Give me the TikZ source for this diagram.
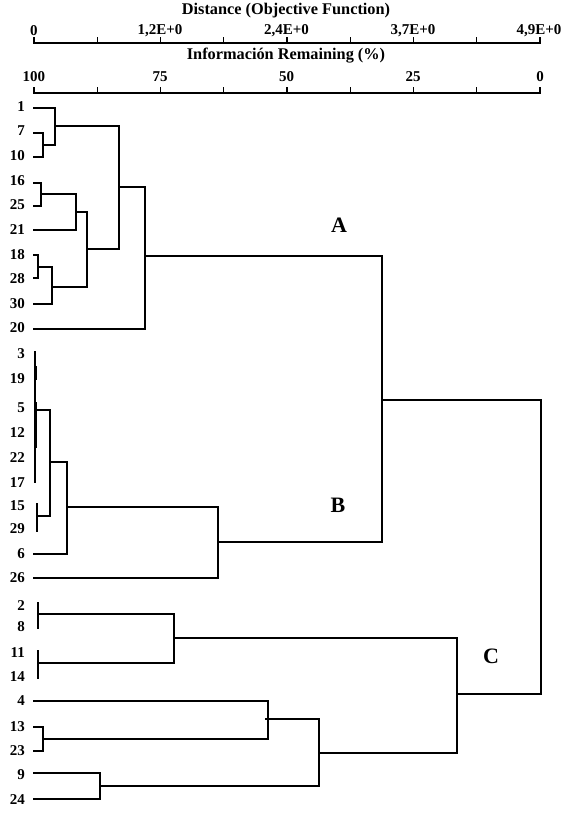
\documentclass[tikz,border=0pt]{standalone}
\usepackage{fontspec}
\setmainfont{Liberation Serif}
\begin{document}
\begin{tikzpicture}[x=1pt,y=-1pt,line cap=rect,
  dl/.style={line width=1.2pt,black},
  leaf/.style={anchor=east,inner sep=0pt,font=\bfseries\fontsize{15}{16}\selectfont},
  tl/.style={inner sep=0pt,font=\bfseries\fontsize{15}{16}\selectfont},
  ttl/.style={inner sep=0pt,font=\bfseries\fontsize{16.3}{17}\selectfont},
  grp/.style={inner sep=0pt,font=\bfseries\fontsize{22}{24}\selectfont}]
\useasboundingbox (0,0) rectangle (569,815);
% axes
\node[ttl] (t1) at (286,10.5) {Distance (Objective Function)};
\node[ttl] (t2) at (286,56) {Información Remaining (\%)};
\draw[dl] (34,43) -- (540,43);
\draw[dl] (34,93) -- (540,93);
\foreach \i in {0,...,8}{
  \draw[dl] (34+63.25*\i,38) -- (34+63.25*\i,43);
  \draw[dl] (34+63.25*\i,88) -- (34+63.25*\i,93);
}
\node[tl] (a0) at (34,30.5) {0};
\node[tl] (a1) at (160,30.5) {1,2E+0};
\node[tl] (a2) at (286.5,30.5) {2,4E+0};
\node[tl] (a3) at (413,30.5) {3,7E+0};
\node[tl] (a4) at (539,30.5) {4,9E+0};
\node[tl] (b0) at (34,77) {100};
\node[tl] (b1) at (160,77) {75};
\node[tl] (b2) at (286.5,77) {50};
\node[tl] (b3) at (413,77) {25};
\node[tl] (b4) at (540,77) {0};
% leaf labels
\foreach \n/\y in {1/107,7/131,10/156,16/181,25/205,21/230,18/255,28/279,30/304,20/328,
  3/354,19/379,5/408,12/433,22/458,17/483,15/506,29/529,6/554,26/578,
  2/606,8/627,11/653,14/677,4/701,13/727,23/751,9/775,24/800}
  \node[leaf] (l\n) at (25,\y) {\n};
% cluster A
\draw[dl] (34,108) -- (55,108);
\draw[dl] (34,133) -- (43,133) -- (43,157) -- (34,157);
\draw[dl] (43,145) -- (55,145);
\draw[dl] (55,108) -- (55,145);
\draw[dl] (55,126) -- (119,126);
\draw[dl] (34,183) -- (41,183) -- (41,206) -- (34,206);
\draw[dl] (41,194) -- (76,194);
\draw[dl] (34,230) -- (76,230) -- (76,194);
\draw[dl] (76,212) -- (87,212);
\draw[dl] (34,255) -- (38,255) -- (38,278) -- (34,278);
\draw[dl] (38,267) -- (52,267);
\draw[dl] (34,304) -- (52,304) -- (52,267);
\draw[dl] (52,287) -- (87,287);
\draw[dl] (87,212) -- (87,287);
\draw[dl] (87,249) -- (119,249);
\draw[dl] (119,126) -- (119,249);
\draw[dl] (119,187) -- (145,187);
\draw[dl] (34,329) -- (145,329) -- (145,187);
\draw[dl] (145,256) -- (382,256) -- (382,542);
% cluster B
\draw[dl] (35,352) -- (35,482);
\draw[line width=2.6pt] (35.8,367) -- (35.8,379);
\draw[line width=2.6pt] (35.8,403) -- (35.8,447);
\draw[dl] (36,410) -- (50,410);
\draw[dl] (37,504) -- (37,531);
\draw[dl] (37,516) -- (50,516);
\draw[dl] (50,410) -- (50,516);
\draw[dl] (50,462) -- (67,462);
\draw[dl] (34,554) -- (67,554) -- (67,462);
\draw[dl] (67,507) -- (218,507);
\draw[dl] (34,578) -- (218,578) -- (218,507);
\draw[dl] (218,542) -- (382,542);
\draw[dl] (382,400) -- (541,400) -- (541,694);
% cluster C
\draw[dl] (38,603) -- (38,628);
\draw[dl] (38,614) -- (174,614);
\draw[dl] (38,651) -- (38,678);
\draw[dl] (38,663) -- (174,663);
\draw[dl] (174,614) -- (174,663);
\draw[dl] (174,638) -- (457,638);
\draw[dl] (34,701) -- (268,701);
\draw[dl] (34,727) -- (43,727) -- (43,751) -- (34,751);
\draw[dl] (43,739) -- (268,739);
\draw[dl] (268,701) -- (268,739);
\draw[dl] (266,719) -- (319,719);
\draw[dl] (34,773) -- (100,773) -- (100,799) -- (34,799);
\draw[dl] (100,786) -- (319,786);
\draw[dl] (319,719) -- (319,786);
\draw[dl] (319,753) -- (457,753);
\draw[dl] (457,638) -- (457,753);
\draw[dl] (457,694) -- (541,694);
% group labels
\node[grp] (gA) at (339,225) {A};
\node[grp] (gB) at (338,505) {B};
\node[grp] (gC) at (491,656) {C};
\end{tikzpicture}
\end{document}
